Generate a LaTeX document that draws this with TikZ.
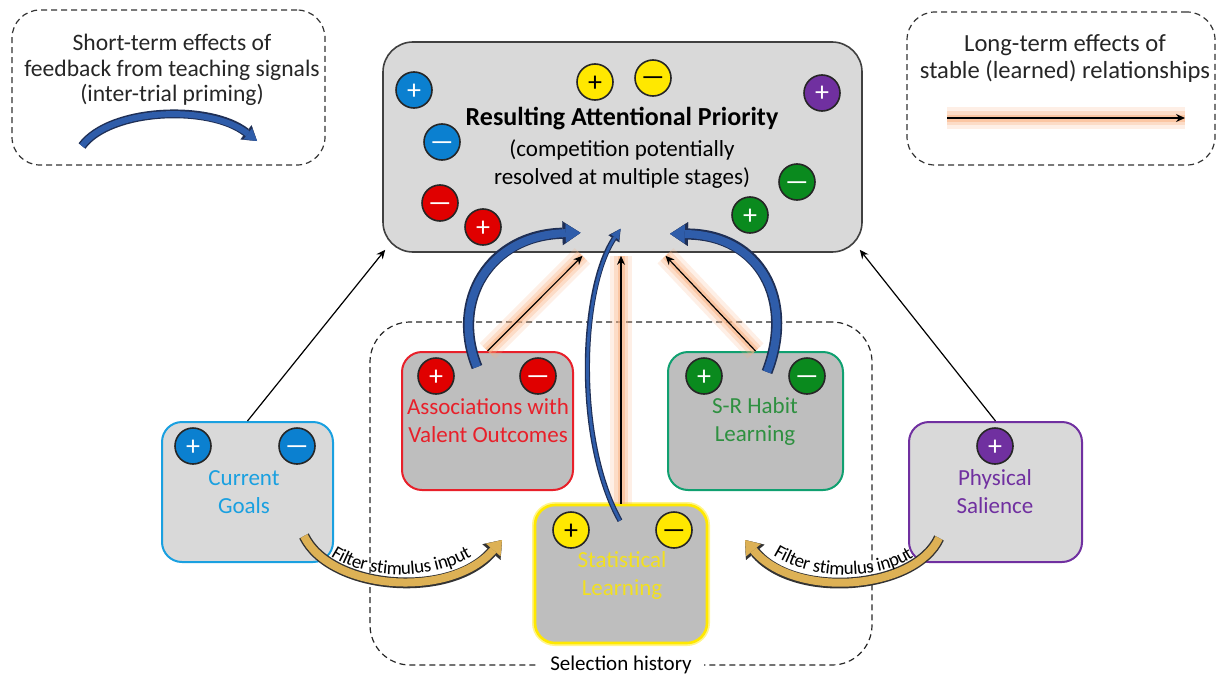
\documentclass[tikz,border=0pt]{standalone}
\usepackage{fontspec}
\setmainfont{Carlito}
\usetikzlibrary{arrows.meta,calc,decorations.text}
\definecolor{boxlight}{HTML}{D9D9D9}
\definecolor{boxdark}{HTML}{BEBEBE}
\definecolor{cgblue}{HTML}{1AA0E0}
\definecolor{cblue}{HTML}{0B80D0}
\definecolor{rred}{HTML}{E8202A}
\definecolor{cred}{HTML}{E00000}
\definecolor{yel}{HTML}{FFE800}
\definecolor{yeltext}{HTML}{F2E020}
\definecolor{grstroke}{HTML}{10A070}
\definecolor{cgreen}{HTML}{0A8A1E}
\definecolor{grtext}{HTML}{2E9040}
\definecolor{purp}{HTML}{7030A0}
\definecolor{arrblue}{HTML}{2F5DAA}
\definecolor{navy}{HTML}{1F2F55}
\definecolor{gold}{HTML}{DDB155}
\definecolor{glow}{HTML}{F9B080}
\newcommand\mysignminus{\scalebox{1.8}[1]{−}}
\begin{document}
\begin{tikzpicture}[x=0.5pt,y=-0.5pt,
  box/.style={rectangle, rounded corners=10pt, line width=1pt},
  legbox/.style={rectangle, rounded corners=14pt, draw=black!80, line width=0.6pt, dash pattern=on 3pt off 2pt},
  selbox/.style={rectangle, rounded corners=20pt, draw=black!85, line width=0.6pt, dash pattern=on 3pt off 2pt},
  circ/.style={circle, draw=black!85, line width=0.8pt, minimum size=18pt, inner sep=0pt, fill=#1,
               text height=9pt, text depth=0pt, font=\fontsize{14}{14}\selectfont},
  circW/.style={circ=#1, text=white},
  circK/.style={circ=#1, text=black},
  lab/.style={align=center, font=\fontsize{11.5}{14}\selectfont},
  legtext/.style={align=center, text=black!85, font=\fontsize{11.8}{12.6}\selectfont},
  blk/.style={draw=black, line width=0.6pt, -{Stealth[length=4.5pt,width=4pt]}},
  glowW/.style={draw=glow, line width=11pt, opacity=0.2},
  glowM/.style={draw=glow, line width=7pt, opacity=0.3},
  glowN/.style={draw=glow, line width=3.5pt, opacity=0.5},
  bOut/.style={draw=navy, line width=5.6pt, -{Triangle[length=9pt,width=12pt,line width=0.1pt]}},
  bIn/.style={draw=arrblue, line width=4pt, -{Triangle[length=7.4pt,width=9.4pt,line width=0.1pt]}},
  bOutS/.style={draw=navy, line width=4.4pt, -{Triangle[length=7pt,width=9pt,line width=0.1pt]}},
  bInS/.style={draw=arrblue, line width=3pt, -{Triangle[length=5.8pt,width=6.8pt,line width=0.1pt]}},
  bOutT/.style={draw=navy, line width=2.6pt, -{Triangle[length=6pt,width=6.5pt,line width=0.1pt]}},
  bInT/.style={draw=arrblue, line width=1.4pt, -{Triangle[length=5pt,width=4.6pt,line width=0.1pt]}},
  gOut/.style={draw=black!80, line width=5.4pt, -{Triangle[length=8pt,width=12pt,line width=0.1pt]}},
  gIn/.style={draw=gold, line width=4pt, -{Triangle[length=6.6pt,width=9.6pt,line width=0.1pt]}},
  ftext/.style={decorate, decoration={text along path, text align=center, raise=3.2pt,
      text={|\fontsize{9.5}{9.5}\selectfont|Filter stimulus input}}}
]
\useasboundingbox (0,0) rectangle (1218,674);

% ---------- legends ----------
\node[legbox, minimum width=156.5pt, minimum height=77.5pt] (legL) at (168.5,87.5) {};
\node[legtext] (legLt) at (172,70) {Short-term effects of\\feedback from teaching signals\\(inter-trial priming)};
\coordinate (lbA) at (82,146);
\coordinate (lbB) at (257,141);
\draw[bOutS] (lbA) .. controls (110,108) and (210,104) .. (lbB);
\draw[bInS] (lbA) .. controls (110,108) and (210,104) .. (lbB);

\node[legbox, minimum width=154pt, minimum height=76.5pt] (legR) at (1061,88.5) {};
\node[legtext, font=\fontsize{12.3}{13.4}\selectfont] (legRt) at (1065,58.5) {Long-term effects of\\stable (learned) relationships};
\coordinate (loA) at (947,118);
\coordinate (loB) at (1185,118);
\path[glowW] (loA) -- (loB);
\path[glowM] (loA) -- (loB);
\path[glowN] (loA) -- (loB);
\draw[blk] (loA) -- (loB);

% ---------- selection history ----------
\node[selbox, minimum width=251pt, minimum height=171.5pt] (sel) at (621,493.5) {};
\node[align=center, fill=white, inner xsep=6pt, inner ysep=1pt, font=\fontsize{10.5}{12}\selectfont] (selt) at (621,665) {Selection history};

% ---------- main box ----------
\node[box, draw=black!75, fill=boxlight, rounded corners=15pt, line width=0.8pt,
      minimum width=239.5pt, minimum height=105pt] (main) at (622.5,147) {};
\node[align=center, font=\bfseries\fontsize{13}{14}\selectfont] (title) at (622,119) {Resulting Attentional Priority};
\node[lab] (subt) at (622,164) {(competition potentially\\resolved at multiple stages)};
\node[circW=cblue] (mbp) at (414,90) {+};
\node[circW=cblue] (mbm) at (442,142) {\mysignminus};
\node[circW=cred] (mrm) at (440,203) {\mysignminus};
\node[circW=cred] (mrp) at (483,227) {+};
\node[circK=yel] (myp) at (595,82) {+};
\node[circK=yel] (mym) at (653,78) {\mysignminus};
\node[circW=purp] (mpp) at (822,93) {+};
\node[circW=cgreen] (mgm) at (797,182) {\mysignminus};
\node[circW=cgreen] (mgp) at (750,215) {+};

% ---------- source boxes ----------
\node[box, draw=cgblue, fill=boxlight, minimum width=85.5pt, minimum height=70pt] (cg) at (247.5,492) {};
\node[lab, text=cgblue] (cgt) at (244,492) {Current\\Goals};
\node[circW=cblue] (cgp) at (193,446) {+};
\node[circW=cblue] (cgm) at (297,446) {\mysignminus};

\node[box, draw=rred, fill=boxdark, minimum width=85.5pt, minimum height=69pt] (as) at (487.5,421) {};
\node[lab, text=rred] (ast) at (488,421) {Associations with\\Valent Outcomes};
\node[circW=cred] (asp) at (436,376) {+};
\node[circW=cred] (asm) at (538,376) {\mysignminus};

\node[box, draw=yel, fill=boxdark, line width=1.3pt, preaction={draw=yel!45, line width=3pt, rounded corners=10pt},
      minimum width=86pt, minimum height=69pt] (st) at (621,574) {};
\node[lab, text=yeltext] (stt) at (622,575) {Statistical\\Learning};
\node[circK=yel] (stp) at (571,530) {+};
\node[circK=yel] (stm) at (674,530) {\mysignminus};

\node[box, draw=grstroke, fill=boxdark, minimum width=87.5pt, minimum height=69pt] (sr) at (755.5,421) {};
\node[lab, text=grtext] (srt) at (755,421) {S-R Habit\\Learning};
\node[circW=cgreen] (srp) at (704,376) {+};
\node[circW=cgreen] (srm) at (807,376) {\mysignminus};

\node[box, draw=purp, fill=boxlight, minimum width=86.5pt, minimum height=70pt] (ps) at (995.5,492) {};
\node[lab, text=purp] (pst) at (995,492) {Physical\\Salience};
\node[circW=purp] (psp) at (995,446) {+};

% ---------- black arrows ----------
\draw[blk] (cg.north) -- ($(main.south west)+(3,-3)$);
\draw[blk] (ps.north) -- ($(main.south east)+(-3,-3)$);

% ---------- long-term (glowing) arrows ----------
\foreach \g in {glowW,glowM,glowN}{
  \path[\g] (as.north) -- ($(main.south)+(-40,3)$);
  \path[\g] (st.north) -- ($(st.north |- main.south)+(0,3)$);
  \path[\g] (sr.north) -- ($(main.south)+(43,3)$);
}
\draw[blk] (as.north) -- ($(main.south)+(-40,3)$);
\draw[blk] (st.north) -- ($(st.north |- main.south)+(0,3)$);
\draw[blk] (sr.north) -- ($(main.south)+(43,3)$);

% ---------- short-term (blue) arrows ----------
\draw[bOut] ($(as.north)+(-10.5,16)$) .. controls (450,300) and (490,235) .. ($(main.south)+(-42,-20)$);
\draw[bIn]  ($(as.north)+(-10.5,16)$) .. controls (450,300) and (490,235) .. ($(main.south)+(-42,-20)$);
\draw[bOut] ($(sr.north)+(11.5,21)$) .. controls (795,300) and (760,235) .. ($(main.south)+(47.5,-19)$);
\draw[bIn]  ($(sr.north)+(11.5,21)$) .. controls (795,300) and (760,235) .. ($(main.south)+(47.5,-19)$);
\draw[bOutT] ($(st.north)+(-1,17)$) .. controls (575,440) and (580,290) .. ($(main.south)+(-2,-24)$);
\draw[bInT]  ($(st.north)+(-1,17)$) .. controls (575,440) and (580,290) .. ($(main.south)+(-2,-24)$);

% ---------- filter arrows ----------
\coordinate (fl) at (502,540);
\coordinate (fr) at (745,540);
\draw[gOut] ($(cg.south east)+(-30,-27)$) .. controls (330,590) and (450,600) .. (fl);
\draw[gIn]  ($(cg.south east)+(-30,-27)$) .. controls (330,590) and (450,600) .. (fl);
\path[ftext] ($(cg.south east)+(-30,-27)$) .. controls (330,590) and (450,600) .. (fl);
\draw[gOut] ($(ps.south west)+(31,-25)$) .. controls (915,590) and (795,600) .. (fr);
\draw[gIn]  ($(ps.south west)+(31,-25)$) .. controls (915,590) and (795,600) .. (fr);
\path[ftext] (fr) .. controls (795,600) and (915,590) .. ($(ps.south west)+(31,-25)$);
\end{tikzpicture}
\end{document}
